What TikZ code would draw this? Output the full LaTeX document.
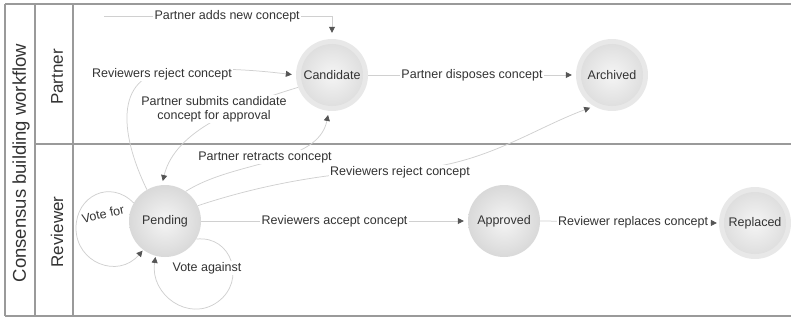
\documentclass[tikz,border=0pt]{standalone}
\usepackage{fontspec}
\setmainfont{Liberation Sans}
\usetikzlibrary{arrows.meta}
\definecolor{txtgray}{HTML}{333333}
\definecolor{linegray}{HTML}{D0D0D0}
\definecolor{tipgray}{HTML}{555555}
\definecolor{bordergray}{HTML}{9A9A9A}
\definecolor{ringgray}{HTML}{E8E8E8}
\begin{document}
\begin{tikzpicture}[x=1pt,y=-1pt,
  border/.style={draw=bordergray,line width=1.1pt},
  lane/.style={rotate=90,text=txtgray,font=\fontsize{17}{20}\selectfont,inner sep=0pt},
  plainstate/.style={circle,minimum size=72pt,inner sep=0pt,text=txtgray,
    font=\fontsize{12.5}{14}\selectfont,shade,inner color=gray!8,outer color=gray!30},
  ringstate/.style={circle,minimum size=72pt,inner sep=0pt,text=txtgray,
    font=\fontsize{12.5}{14}\selectfont,fill=ringgray,
    path picture={\shade[inner color=gray!8,outer color=gray!28]
      (path picture bounding box.center) circle (31pt);}},
  conn/.style={draw=linegray,line width=0.75pt,
    -{Triangle[length=6pt,width=6pt,color=tipgray]},shorten >=4pt},
  lbl/.style={fill=white,text=txtgray,inner sep=1.5pt,font=\fontsize{12.5}{14}\selectfont}
]
\useasboundingbox (0,0) rectangle (791,321);
% frame
\draw[border] (5,4) -- (791,4);
\draw[border] (5,316) -- (791,316);
\draw[border] (5,4) -- (5,316);
\draw[border] (35,4) -- (35,316);
\draw[border] (73,4) -- (73,316);
\draw[border] (35,144) -- (791,144);
% lane titles
\node[lane,font=\fontsize{18.5}{21}\selectfont] (title) at (21,163) {Consensus building workflow};
\node[lane] (partnerlane) at (57,77) {Partner};
\node[lane] (reviewerlane) at (57,232) {Reviewer};
% states
\node[ringstate] (cand) at (332,75) {Candidate};
\node[ringstate] (arch) at (612,75) {Archived};
\node[plainstate] (pend) at (165,221) {Pending};
\node[plainstate] (appr) at (504,221) {Approved};
\node[ringstate] (repl) at (755,223) {Replaced};
% connectors
\coordinate (addstart) at (104,16);
\draw[conn,shorten >=6pt] (addstart) -| node[lbl,pos=0.27] (laddnew) {Partner adds new concept} (cand.north);
\draw[conn] (pend.120) .. controls (118,130) and (115,72) .. (175,70)
   .. controls (230,67) and (270,72) .. (cand.west);
\draw[conn] (cand.200) .. controls (240,105) and (175,130) .. (pend.95);
\draw[conn] (pend.55) .. controls (235,160) and (318,165) .. (cand.265);
\draw[conn] (pend.25) .. controls (260,185) and (330,172) .. (400,170)
   .. controls (480,168) and (530,130) .. (arch.240);
\draw[conn] (cand.east) -- node[lbl,pos=0.5] (ldispose) {Partner disposes concept} (arch.west);
\draw[conn] (pend.east) -- node[lbl,pos=0.5] (laccept) {Reviewers accept concept} (appr.west);
\draw[conn,shorten >=2pt] (appr.east) -- node[lbl,pos=0.52] (lreplace) {Reviewer replaces concept} (repl.west);
\draw[conn,shorten >=1pt] (pend.150) .. controls (110,179) and (76,196) .. (76,228)
   .. controls (76,263) and (118,279) .. (pend.233);
\draw[conn,shorten >=1pt] (pend.330) .. controls (231.8,235) and (246.7,280.9) .. (217.7,301.9)
   .. controls (188.7,322.9) and (149.7,294.6) .. (pend.255);
% labels on curved connectors
\node[lbl] (lrejectup) at (162,74) {Reviewers reject concept};
\node[lbl,align=center] (lsubmit) at (214,109) {Partner submits candidate\\concept for approval};
\node[lbl] (lretract) at (265,157) {Partner retracts concept};
\node[lbl] (lrejectlow) at (400,172) {Reviewers reject concept};
\node[lbl,fill=none,rotate=13] (lvotefor) at (103,214) {Vote for};
\node[lbl] (lvoteagainst) at (207,268) {Vote against};
\end{tikzpicture}
\end{document}
